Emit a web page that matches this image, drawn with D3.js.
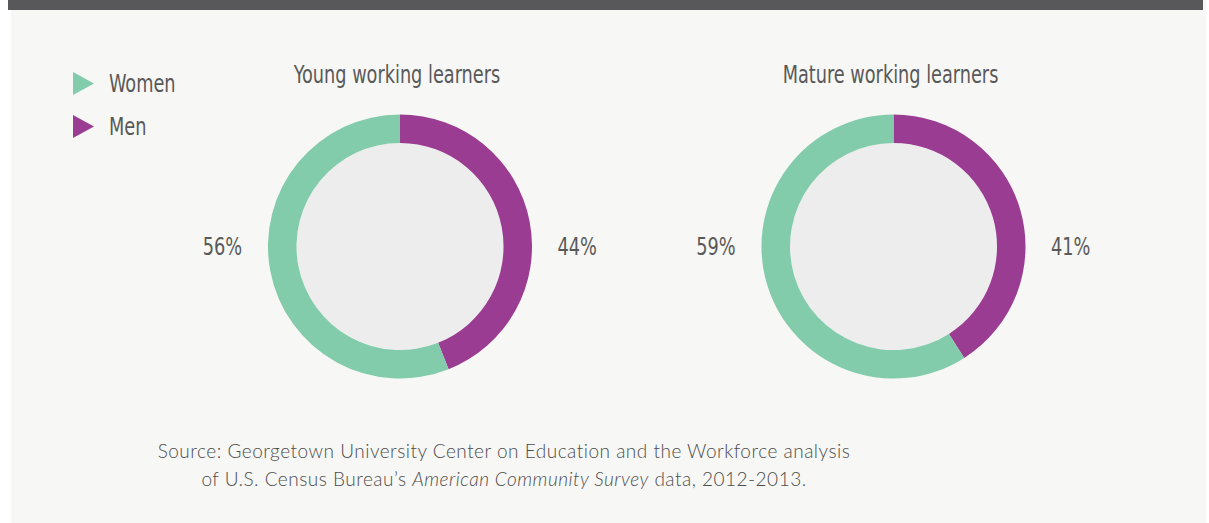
<!DOCTYPE html>
<html><head><meta charset="utf-8">
<script src="https://cdn.jsdelivr.net/npm/d3@7"></script>
<style>
body{margin:0;background:#fff;}
svg{display:block;}
</style></head>
<body>
<svg id="chart" width="1209" height="523"></svg>
<script>
const groups = ["Young working learners", "Mature working learners"];
const seriesNames = ["Women", "Men"];
const women = [56, 59];
const men = [44, 41];
const sourceLines = [
  [{t:"Source: Georgetown University Center on Education and the Workforce analysis", i:false}],
  [{t:"of U.S. Census Bureau\u2019s ", i:false},{t:"American Community Survey", i:true},{t:" data, 2012-2013.", i:false}]
];

const W = 1209, H = 523;
const svg = d3.select("#chart");
const colors = d3.scaleOrdinal().domain(seriesNames).range(["#82cbab", "#9b3c93"]);
const condensed = "'DejaVu Sans Condensed','DejaVu Sans',sans-serif";
const textCol = "#595959";
const SQUEEZE = 0.82;

function squeeze(sel) {
  sel.each(function () {
    const len = this.getComputedTextLength();
    d3.select(this).attr("textLength", len * SQUEEZE).attr("lengthAdjust", "spacingAndGlyphs");
  });
}

svg.append("rect").attr("x", 11).attr("y", 0).attr("width", 1195).attr("height", H).attr("fill", "#f7f7f5");
svg.append("rect").attr("x", 8).attr("y", 0).attr("width", 1195).attr("height", 10).attr("fill", "#58585a");

const cx = d3.scalePoint().domain(groups).range([400, 893.5]);
const cy = 246.5, outerR = 132, innerR = 103.5;

const pie = d3.pie().sort(null).value(d => d.value);
const arc = d3.arc().innerRadius(innerR).outerRadius(outerR);

groups.forEach((g, i) => {
  const gg = svg.append("g").attr("transform", `translate(${cx(g)},${cy})`);
  gg.append("circle").attr("r", innerR).attr("fill", "#ededed");
  const data = [{name: "Men", value: men[i]}, {name: "Women", value: women[i]}];
  gg.selectAll("path").data(pie(data)).join("path")
    .attr("d", arc).attr("fill", d => colors(d.data.name));
  gg.append("text").attr("class", "cond").attr("x", -3).attr("y", -163.5)
    .attr("text-anchor", "middle").text(g);
  gg.append("text").attr("class", "cond").attr("x", -(outerR + 26)).attr("y", 8.5)
    .attr("text-anchor", "end").text(women[i] + "%");
  gg.append("text").attr("class", "cond").attr("x", outerR + 25.5).attr("y", 8.5)
    .attr("text-anchor", "start").text(men[i] + "%");
});

// legend
const legY = d3.scalePoint().domain(seriesNames).range([83.5, 126.5]);
const leg = svg.selectAll(".leg").data(seriesNames).join("g")
  .attr("transform", d => `translate(73,${legY(d)})`);
leg.append("path").attr("d", "M0,-11.5L21,0L0,11.5Z").attr("fill", d => colors(d));
leg.append("text").attr("class", "cond").attr("x", 36).attr("y", 8).text(d => d);

svg.selectAll("text.cond").attr("font-family", condensed).attr("font-size", 24)
  .attr("fill", textCol).call(squeeze);

// source
const src = svg.append("text").attr("text-anchor", "middle")
  .attr("font-family", "Lato,'Open Sans',sans-serif").attr("font-weight", 300)
  .attr("font-size", 19).attr("letter-spacing", 0.5).attr("fill", "#4d4d4d");
sourceLines.forEach((line, li) => {
  line.forEach((seg, si) => {
    const ts = src.append("tspan").text(seg.t).attr("font-style", seg.i ? "italic" : "normal");
    if (si === 0) ts.attr("x", 504).attr("y", 457.5 + li * 28.5);
  });
});
</script>
</body></html>
